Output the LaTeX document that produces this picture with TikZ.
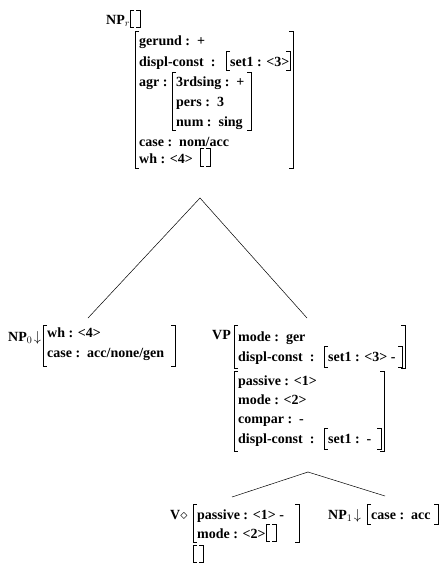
\documentclass[tikz,border=0pt]{standalone}
\usepackage{fontspec}
\setmainfont{Liberation Serif}
\usepackage{tikz}
\usetikzlibrary{positioning}

% brackets of a feature structure: left x, right x, top y, bottom y
\newcommand{\lbrk}[3]{\draw[brk] (#1+4,#2) -- (#1,#2) -- (#1,#3) -- (#1+4,#3);}
\newcommand{\rbrk}[3]{\draw[brk] (#1-4,#2) -- (#1,#2) -- (#1,#3) -- (#1-4,#3);}
\newcommand{\avm}[4]{\lbrk{#1}{#3}{#4}\rbrk{#2}{#3}{#4}}

\begin{document}
\begin{tikzpicture}[
    x=1pt, y=-1pt,
    feat/.style={anchor=base west, inner sep=0pt, font=\fontsize{14}{16}\selectfont\bfseries},
    cat/.style={anchor=base west, inner sep=0pt, font=\fontsize{14}{16}\selectfont\bfseries},
    brk/.style={line width=0.6pt},
    branch/.style={line width=0.5pt},
]
    \useasboundingbox (0,0) rectangle (447,570);

    % root NP_r
    \node[cat] (np-r) at (106,24) {NP$_r$};
    \avm{130}{140}{10}{27}
    \avm{135}{293}{31}{168}
    \node[feat] (np-r-gerund) at (139,45) {gerund :~~+};
    \node[feat] (np-r-displ) at (139,66) {displ-const~~:};
    \avm{226}{290}{51}{70}
    \node[feat] (np-r-set) at (230,66) {set1 : <3>};
    \node[feat] (np-r-agr) at (139,86) {agr :};
    \avm{172}{251}{72}{130}
    \node[feat] (np-r-3rd) at (176,86) {3rdsing :~~+};
    \node[feat] (np-r-pers) at (176,106) {pers :~~3};
    \node[feat] (np-r-num) at (176,126) {num :~~sing};
    \node[feat] (np-r-case) at (139,146) {case :~~nom/acc};
    \node[feat] (np-r-wh) at (139,163) {wh : <4>};
    \avm{200}{210}{148}{166}

    % branches under the root
    \coordinate (root-apex) at (200,198);
    \coordinate (root-left) at (88,318);
    \coordinate (root-right) at (307,318);
    \draw[branch] (root-left) -- (root-apex) -- (root-right);

    % NP_0
    \node[cat] (np-0) at (8,341) {NP$_0\!\downarrow$};
    \avm{43}{175}{325}{366}
    \node[feat] (np-0-wh) at (47,337) {wh : <4>};
    \node[feat] (np-0-case) at (47,357) {case :~~acc/none/gen};

    % VP
    \node[cat] (vp) at (212,339) {VP};
    \avm{234}{405}{325}{368}
    \node[feat] (vp-mode) at (238,341) {mode :~~ger};
    \node[feat] (vp-displ) at (238,361) {displ-const~~:};
    \avm{324}{402}{346}{367}
    \node[feat] (vp-set) at (328,361) {set1 : <3>~-};
    \avm{234}{384}{371}{451}
    \node[feat] (vp-passive) at (238,385) {passive : <1>};
    \node[feat] (vp-mode2) at (238,404) {mode : <2>};
    \node[feat] (vp-compar) at (238,423) {compar :~~-};
    \node[feat] (vp-displ2) at (238,443) {displ-const~~:};
    \avm{324}{381}{428}{449}
    \node[feat] (vp-set2) at (328,443) {set1 :~~-};

    % branches under VP
    \coordinate (vp-apex) at (308,472);
    \coordinate (vp-left) at (232,497);
    \coordinate (vp-right) at (385,496);
    \draw[branch] (vp-left) -- (vp-apex) -- (vp-right);

    % anchor V
    \node[cat] (v) at (170,519) {V$\diamond$};
    \avm{193}{299}{504}{542}
    \node[feat] (v-passive) at (197,519) {passive : <1>~-};
    \node[feat] (v-mode) at (197,538) {mode : <2>};
    \avm{266}{276}{524}{541}
    \avm{193}{203}{545}{562}

    % NP_1
    \node[cat] (np-1) at (328,519) {NP$_1\!\downarrow$};
    \avm{367}{438}{504}{524}
    \node[feat] (np-1-case) at (371,519) {case :~~acc};
\end{tikzpicture}
\end{document}
